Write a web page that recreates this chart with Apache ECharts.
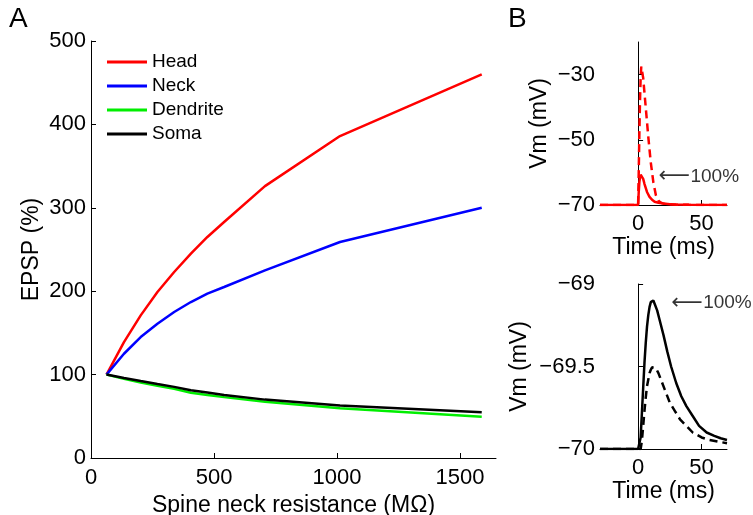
<!DOCTYPE html>
<html><head><meta charset="utf-8">
<script src="https://cdn.jsdelivr.net/npm/echarts@6/dist/echarts.min.js"></script>
<style>html,body{margin:0;padding:0;background:#fff}#c{width:753px;height:515px}</style>
</head><body><div id="c"></div>
<script>
// ---- Panel A data ----
var resistance   = [63, 134, 202, 270, 338, 406, 473, 541, 707, 1012, 1588];
var headEPSP     = [100, 139, 171, 199, 223, 245, 265, 283, 326, 386, 460];
var neckEPSP     = [100, 125, 145, 161, 175, 187, 197, 205, 225, 259, 300];
var dendriteEPSP = [100, 95, 90.5, 86.5, 83, 78.3, 75.5, 73, 67.5, 59.6, 49.5];
var somaEPSP     = [100, 96, 92.3, 88.7, 85.3, 81.2, 78.5, 75.6, 70, 63, 54.8];
var seriesNames = ['Head', 'Neck', 'Dendrite', 'Soma'];
var xTicksA = [0, 500, 1000, 1500];

// ---- Panel B top (spine head) ----
var tHeadDashed = [-30, 0, 0.5, 1, 1.5, 2, 2.5, 3, 4, 6, 8, 10, 12, 14, 16, 18, 20, 25, 30, 40, 70];
var vHeadDashed = [-70, -70, -60, -48, -38, -31, -27.5, -27.3, -31, -40, -49, -57, -63, -67, -68.7, -69.3, -69.6, -69.8, -69.9, -69.96, -70];
var tHeadSolid = [-30, 0, 0.5, 1, 1.5, 2, 2.5, 3, 4, 5, 7, 9, 11, 13, 16, 20, 25, 30, 40, 70];
var vHeadSolid = [-70, -70, -66, -63, -61.5, -60.7, -60.5, -60.8, -62, -63.5, -66, -67.5, -68.4, -69, -69.3, -69.55, -69.75, -69.85, -69.95, -70];
var yTicksB1 = [-70, -50, -30];

// ---- Panel B bottom (soma) ----
var tSomaSolid = [-30, 0, 1, 2, 3, 4, 5, 6, 7, 8, 9, 10, 11, 12, 13, 15, 17, 20, 23, 26, 30, 34, 38, 43, 48, 54, 60, 65, 70];
var vSomaSolid = [-70, -70, -70, -69.93, -69.78, -69.63, -69.48, -69.36, -69.26, -69.19, -69.14, -69.11, -69.10, -69.10, -69.12, -69.16, -69.22, -69.31, -69.41, -69.50, -69.60, -69.68, -69.74, -69.80, -69.86, -69.90, -69.92, -69.935, -69.945];
var tSomaDashed = [-30, 0, 2, 3, 4, 5, 6, 7, 8, 9, 10, 11, 12.5, 14, 16, 18.5, 21, 25, 29, 33, 38, 43, 50, 56, 63, 70];
var vSomaDashed = [-70, -70, -70, -69.95, -69.86, -69.77, -69.69, -69.62, -69.58, -69.54, -69.52, -69.505, -69.50, -69.51, -69.54, -69.59, -69.64, -69.72, -69.77, -69.82, -69.86, -69.90, -69.93, -69.945, -69.955, -69.965];
var yTicksB2 = [-70, -69.5, -69];
var xTicksB = [0, 50];

// ---- annotations ----
var arrowTop = [16, -61.2];
var arrowBottom = [26, -69.115];
var annotationText = '100%';

function pairs(t, v) { return t.map(function (x, i) { return [x, v[i]]; }); }
function fmt(v) { return String(v).replace('-', '\u2212'); }

var FONT = 'Liberation Sans, Arial, Helvetica, sans-serif';
function lbl(extra) {
  var o = { color: '#000', fontSize: 22, fontFamily: FONT, formatter: fmt };
  for (var k in extra) { o[k] = extra[k]; }
  return o;
}
function tick(custom) {
  var o = { show: true, inside: true, length: 5, lineStyle: { color: '#000', width: 1 } };
  if (custom) { o.customValues = custom; }
  return o;
}
function ax(extra) {
  var o = {
    axisLine: { show: true, lineStyle: { color: '#000', width: 1 } },
    axisTick: tick(),
    splitLine: { show: false },
    axisLabel: lbl({}),
    nameTextStyle: { color: '#000', fontSize: 23, fontFamily: FONT },
    nameLocation: 'middle'
  };
  for (var k in extra) { o[k] = extra[k]; }
  return o;
}

var colors = ['#ff0000', '#0000ff', '#00ee00', '#000000'];
var dataA = [headEPSP, neckEPSP, dendriteEPSP, somaEPSP];

var series = [];
seriesNames.forEach(function (n, i) {
  series.push({
    name: n, type: 'line', xAxisIndex: 0, yAxisIndex: 0,
    data: pairs(resistance, dataA[i]), showSymbol: false, symbol: 'none',
    lineStyle: { color: colors[i], width: 2.5 }, itemStyle: { color: colors[i] },
    z: 2 + i, animation: false
  });
});
series.push({ type: 'line', xAxisIndex: 1, yAxisIndex: 1, data: pairs(tHeadDashed, vHeadDashed), symbol: 'none',
  lineStyle: { color: '#ff0000', width: 2.5, type: [8, 5] }, animation: false });
series.push({ type: 'line', xAxisIndex: 1, yAxisIndex: 1, data: pairs(tHeadSolid, vHeadSolid), symbol: 'none',
  lineStyle: { color: '#ff0000', width: 2.5 }, animation: false });
series.push({ type: 'line', xAxisIndex: 2, yAxisIndex: 2, data: pairs(tSomaDashed, vSomaDashed), symbol: 'none',
  lineStyle: { color: '#000', width: 2.5, type: [8, 5] }, animation: false });
series.push({ type: 'line', xAxisIndex: 2, yAxisIndex: 2, data: pairs(tSomaSolid, vSomaSolid), symbol: 'none',
  lineStyle: { color: '#000', width: 2.5 }, animation: false });

function annot(idx, pt) {
  return {
    type: 'scatter', xAxisIndex: idx, yAxisIndex: idx, data: [pt], symbolSize: 0.1,
    itemStyle: { color: 'rgba(0,0,0,0)' }, silent: true, animation: false, z: 10,
    label: {
      show: true, position: 'right', distance: 0, color: '#000', textBorderWidth: 0,
      formatter: '{a|\u27f5}{b|' + annotationText + '}',
      rich: {
        a: { fontSize: 22, fontFamily: 'DejaVu Sans', color: '#000', width: 32, textBorderWidth: 0 },
        b: { fontSize: 19, fontFamily: FONT, color: '#000', textBorderWidth: 0 }
      }
    }
  };
}
series.push(annot(1, arrowTop));
series.push(annot(2, arrowBottom));

var option = {
  backgroundColor: '#fff',
  animation: false,
  grid: [
    { left: 91, top: 41, width: 405, height: 417, outerBoundsMode: 'none', containLabel: false },
    { left: 600, top: 42, width: 127, height: 163, outerBoundsMode: 'none', containLabel: false },
    { left: 600, top: 284, width: 127, height: 165, outerBoundsMode: 'none', containLabel: false }
  ],
  legend: {
    orient: 'vertical', left: 107, top: 50, padding: 0, itemGap: 0,
    itemWidth: 40, itemHeight: 3, icon: 'rect',
    data: seriesNames,
    textStyle: { color: '#000', fontSize: 19, fontFamily: FONT, lineHeight: 24 }
  },
  xAxis: [
    ax({ gridIndex: 0, type: 'value', min: 0, max: 1646, name: 'Spine neck resistance (M\u03a9)', nameGap: 29,
         axisTick: tick(xTicksA), axisLabel: lbl({ customValues: xTicksA, margin: 9 }) }),
    ax({ gridIndex: 1, type: 'value', min: -30, max: 70, name: 'Time (ms)', nameGap: 27,
         axisTick: tick(xTicksB), axisLabel: lbl({ customValues: xTicksB, margin: 8 }) }),
    ax({ gridIndex: 2, type: 'value', min: -30, max: 70, name: 'Time (ms)', nameGap: 28,
         axisTick: tick(xTicksB), axisLabel: lbl({ customValues: xTicksB, margin: 8 }) })
  ],
  yAxis: [
    ax({ gridIndex: 0, type: 'value', min: 0, max: 500, interval: 100, name: 'EPSP (%)', nameGap: 48,
         nameMoveOverlap: false, axisLabel: lbl({ margin: 5 }) }),
    ax({ gridIndex: 1, type: 'value', min: -70, max: -20, name: 'Vm (mV)', nameGap: 49,
         axisTick: tick(yTicksB1), axisLabel: lbl({ customValues: yTicksB1, margin: 5 }) }),
    ax({ gridIndex: 2, type: 'value', min: -70, max: -69, name: 'Vm (mV)', nameGap: 69,
         axisTick: tick(yTicksB2), axisLabel: lbl({ customValues: yTicksB2, margin: 5 }) })
  ],
  graphic: [
    { type: 'text', left: 9, top: 5, style: { text: 'A', fontSize: 28, fontFamily: FONT, fill: '#000' } },
    { type: 'text', left: 508, top: 5, style: { text: 'B', fontSize: 28, fontFamily: FONT, fill: '#000' } }
  ],
  series: series
};
var chart = echarts.init(document.getElementById('c'), null, { renderer: 'canvas' });
chart.setOption(option);
</script></body></html>
